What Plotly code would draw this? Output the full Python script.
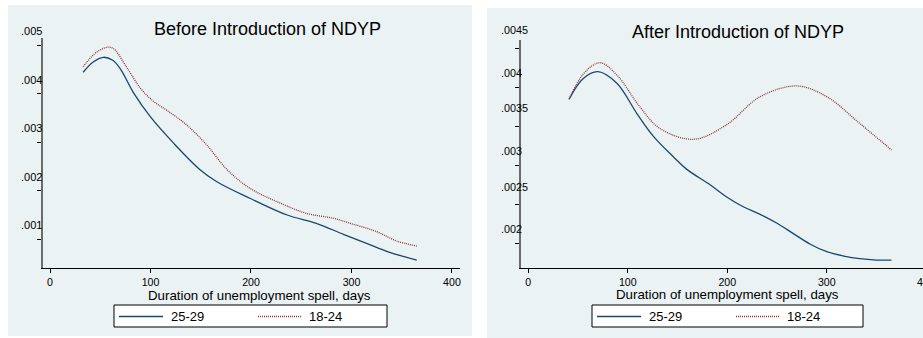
import plotly.graph_objects as go

# ---- data -------------------------------------------------------------
# Kernel-smoothed hazard estimates by duration of unemployment spell (days)
before_days_2529 = [33, 43, 53, 62, 70, 83, 100, 123, 149, 166, 199, 236, 265, 292, 315, 338, 365]
before_haz_2529 = [0.00444, 0.00465, 0.004747, 0.00469, 0.00451, 0.00402, 0.00352, 0.00298, 0.00244,
                   0.002187, 0.001846, 0.001502, 0.001331, 0.001105, 0.00092, 0.000735, 0.000576]

before_days_1824 = [33, 47, 61, 76, 90, 103, 116, 136, 156, 176, 199, 232, 255, 282, 299, 325, 345, 365]
before_haz_1824 = [0.004554, 0.00486, 0.00495, 0.00455, 0.00411, 0.00384, 0.00366, 0.003354, 0.002942,
                   0.00244, 0.002051, 0.001722, 0.001537, 0.001434, 0.00133, 0.00116, 0.000967, 0.000864]

after_days_2529 = [41, 55, 70, 89, 109, 126, 146, 159, 183, 199, 216, 233, 250, 266, 283, 300, 317,
                   333, 350, 365]
after_haz_2529 = [0.003847, 0.00411, 0.004199, 0.004051, 0.003668, 0.00337, 0.00311, 0.002955,
                  0.002752, 0.002603, 0.002475, 0.002378, 0.002263, 0.002135, 0.001999, 0.0019,
                  0.001845, 0.001811, 0.001794, 0.001794]

after_days_1824 = [41, 56, 72, 89, 112, 132, 166, 199, 233, 270, 300, 333, 365]
after_haz_1824 = [0.003847, 0.00418, 0.004314, 0.004157, 0.003752, 0.003476, 0.003336, 0.003519,
                  0.00388, 0.004017, 0.00388, 0.00354, 0.0032]

x_ticks = [0, 100, 200, 300, 400]
before_y_ticks = [0.001, 0.002, 0.003, 0.004, 0.005]
before_y_labels = [".001", ".002", ".003", ".004", ".005"]
after_y_ticks = [0.002, 0.0025, 0.003, 0.0035, 0.004, 0.0045]
after_y_labels = [".002", ".0025", ".003", ".0035", ".004", ".0045"]

titles = ["Before Introduction of NDYP", "After Introduction of NDYP"]
x_title = "Duration of unemployment spell, days"
series_names = ["25-29", "18-24"]

# ---- styling ------------------------------------------------------------
W, H = 923, 338
BG = "#EAF2F3"
BLUE = "#1A476F"
RED = "#90353B"
FONT = "Liberation Sans, Arial, sans-serif"


def px(x):
    return x / W


def py(y):
    return 1 - y / H


fig = go.Figure()

line_blue = dict(color=BLUE, width=1.3, shape="spline", smoothing=1.0)
line_red = dict(color=RED, width=1.3, dash="1px,1px", shape="spline", smoothing=1.0)

fig.add_trace(go.Scatter(x=before_days_2529, y=before_haz_2529, mode="lines", name=series_names[0],
                         line=line_blue, xaxis="x", yaxis="y", showlegend=False))
fig.add_trace(go.Scatter(x=before_days_1824, y=before_haz_1824, mode="lines", name=series_names[1],
                         line=line_red, xaxis="x", yaxis="y", showlegend=False))
fig.add_trace(go.Scatter(x=after_days_2529, y=after_haz_2529, mode="lines", name=series_names[0],
                         line=line_blue, xaxis="x2", yaxis="y2", showlegend=False))
fig.add_trace(go.Scatter(x=after_days_1824, y=after_haz_1824, mode="lines", name=series_names[1],
                         line=line_red, xaxis="x2", yaxis="y2", showlegend=False))

xaxis_common = dict(tickmode="array", tickvals=x_ticks, ticks="outside", ticklen=4, tickwidth=1,
                    tickcolor="black", showline=True, linecolor="black", linewidth=1.2,
                    showgrid=False, zeroline=False,
                    tickfont=dict(family=FONT, size=10.6, color="black"))
yaxis_common = dict(tickmode="array", ticks="outside", ticklen=4, tickwidth=1, tickcolor="black",
                    showline=True, linecolor="#6b6b6b", linewidth=2, showgrid=True, gridcolor=BG,
                    gridwidth=1, zeroline=False, showticklabels=False)

fig.update_layout(
    width=W, height=H, autosize=False,
    margin=dict(l=0, r=0, t=0, b=0),
    paper_bgcolor="white", plot_bgcolor="white",
    font=dict(family=FONT, color="black"),
    xaxis=dict(domain=[px(43), px(460)], range=[-6.97, 408], anchor="y", **xaxis_common),
    yaxis=dict(domain=[py(268), py(38)], range=[0.0004115, 0.005144], anchor="x",
               tickvals=before_y_ticks, **yaxis_common),
    xaxis2=dict(domain=[px(521), 1], range=[-7.34, 396.7], anchor="y2", **xaxis_common),
    yaxis2=dict(domain=[py(268), py(40)], range=[0.0016922, 0.004604], anchor="x2",
                tickvals=after_y_ticks, **yaxis_common),
)

shapes = [
    # panel backgrounds
    dict(type="rect", xref="paper", yref="paper", x0=px(8), x1=px(472), y0=py(336), y1=py(5),
         fillcolor=BG, line=dict(width=0), layer="below"),
    dict(type="rect", xref="paper", yref="paper", x0=px(487), x1=px(925), y0=py(339), y1=py(8),
         fillcolor=BG, line=dict(width=0), layer="below"),
]
annotations = []

# panel titles and x-axis titles
for text, cx, cy in [(titles[0], 267, 29), (titles[1], 737.5, 32)]:
    annotations.append(dict(text=text, xref="paper", yref="paper", x=px(cx), y=py(cy),
                            xanchor="center", yanchor="middle", showarrow=False,
                            font=dict(family=FONT, size=18, color="black")))
for cx, cy in [(259, 295.5), (727.5, 294)]:
    annotations.append(dict(text=x_title, xref="paper", yref="paper", x=px(cx), y=py(cy),
                            xanchor="center", yanchor="middle", showarrow=False,
                            font=dict(family=FONT, size=13.3, color="black")))

# y tick labels, set slightly above their ticks
for v, lab in zip(before_y_ticks, before_y_labels):
    annotations.append(dict(text=lab, xref="paper", yref="y", x=px(43.5), y=v, yshift=14,
                            xanchor="right", yanchor="middle", showarrow=False,
                            font=dict(family=FONT, size=11, color="black")))
for v, lab in zip(after_y_ticks, after_y_labels):
    annotations.append(dict(text=lab, xref="paper", yref="y2", x=px(499), y=v,
                            yshift=18 if len(lab) == 5 else 14.5,
                            xanchor="left", yanchor="middle", showarrow=False,
                            font=dict(family=FONT, size=10.8, color="black")))

# tick label for 400 on the right panel, which runs past the page edge
annotations.append(dict(text="400", xref="paper", yref="paper", x=px(926), y=py(282),
                        xanchor="center", yanchor="middle", showarrow=False,
                        font=dict(family=FONT, size=10.6, color="black")))

# legends
for bx0, bx1 in [(114, 387), (592, 863)]:
    shapes.append(dict(type="rect", xref="paper", yref="paper", x0=px(bx0), x1=px(bx1),
                       y0=py(327), y1=py(305), fillcolor="white",
                       line=dict(color="black", width=1)))
    ly = py(316.5)
    shapes.append(dict(type="line", xref="paper", yref="paper", x0=px(bx0 + 5), x1=px(bx0 + 49),
                       y0=ly, y1=ly, line=dict(color=BLUE, width=1.3)))
    shapes.append(dict(type="line", xref="paper", yref="paper", x0=px(bx0 + 144), x1=px(bx0 + 188),
                       y0=ly, y1=ly, line=dict(color=RED, width=1.3, dash="1px,1px")))
    annotations.append(dict(text=series_names[0], xref="paper", yref="paper", x=px(bx0 + 55), y=ly,
                            xanchor="left", yanchor="middle", showarrow=False,
                            font=dict(family=FONT, size=13, color="black")))
    annotations.append(dict(text=series_names[1], xref="paper", yref="paper", x=px(bx0 + 193), y=ly,
                            xanchor="left", yanchor="middle", showarrow=False,
                            font=dict(family=FONT, size=13, color="black")))

fig.update_layout(shapes=shapes, annotations=annotations)

fig.write_html("out.html")
